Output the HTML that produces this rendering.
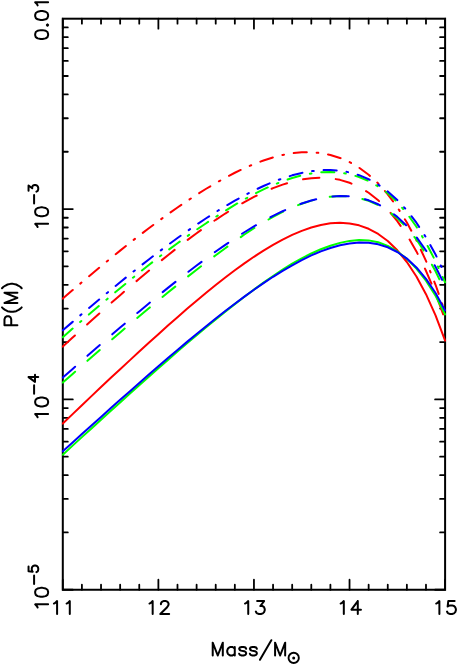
<!DOCTYPE html>
<html><head><meta charset="utf-8"><title>P(M)</title>
<style>
html,body{margin:0;padding:0;background:#fff;}
body{width:458px;height:665px;overflow:hidden;font-family:"Liberation Sans",sans-serif;}
svg{display:block}
</style></head><body>
<svg width="458" height="665" viewBox="0 0 458 665">
<rect width="458" height="665" fill="#fff"/>
<rect x="62.8" y="18.7" width="382.30" height="571.05" stroke="#000" stroke-width="2.0" fill="none"/>
<path d="M62.80,589.75v-10M62.80,18.7v10M81.91,589.75v-5M81.91,18.7v5M101.03,589.75v-5M101.03,18.7v5M120.15,589.75v-5M120.15,18.7v5M139.26,589.75v-5M139.26,18.7v5M158.38,589.75v-10M158.38,18.7v10M177.49,589.75v-5M177.49,18.7v5M196.61,589.75v-5M196.61,18.7v5M215.72,589.75v-5M215.72,18.7v5M234.84,589.75v-5M234.84,18.7v5M253.95,589.75v-10M253.95,18.7v10M273.06,589.75v-5M273.06,18.7v5M292.18,589.75v-5M292.18,18.7v5M311.30,589.75v-5M311.30,18.7v5M330.41,589.75v-5M330.41,18.7v5M349.53,589.75v-10M349.53,18.7v10M368.64,589.75v-5M368.64,18.7v5M387.76,589.75v-5M387.76,18.7v5M406.87,589.75v-5M406.87,18.7v5M425.99,589.75v-5M425.99,18.7v5M445.10,589.75v-10M445.10,18.7v10M62.8,589.75h10M445.1,589.75h-10M62.8,532.45h5M445.1,532.45h-5M62.8,498.93h5M445.1,498.93h-5M62.8,475.15h5M445.1,475.15h-5M62.8,456.70h5M445.1,456.70h-5M62.8,441.63h5M445.1,441.63h-5M62.8,428.89h5M445.1,428.89h-5M62.8,417.85h5M445.1,417.85h-5M62.8,408.11h5M445.1,408.11h-5M62.8,399.40h10M445.1,399.40h-10M62.8,342.10h5M445.1,342.10h-5M62.8,308.58h5M445.1,308.58h-5M62.8,284.80h5M445.1,284.80h-5M62.8,266.35h5M445.1,266.35h-5M62.8,251.28h5M445.1,251.28h-5M62.8,238.54h5M445.1,238.54h-5M62.8,227.50h5M445.1,227.50h-5M62.8,217.76h5M445.1,217.76h-5M62.8,209.05h10M445.1,209.05h-10M62.8,151.75h5M445.1,151.75h-5M62.8,118.23h5M445.1,118.23h-5M62.8,94.45h5M445.1,94.45h-5M62.8,76.00h5M445.1,76.00h-5M62.8,60.93h5M445.1,60.93h-5M62.8,48.19h5M445.1,48.19h-5M62.8,37.15h5M445.1,37.15h-5M62.8,27.41h5M445.1,27.41h-5" stroke="#000" stroke-width="1.8" fill="none" stroke-linecap="round"/>
<defs><clipPath id="c"><rect x="61.699999999999996" y="18.7" width="384.5" height="571.05"/></clipPath></defs>
<g fill="none" stroke-width="2.0" stroke-linecap="round" stroke-linejoin="round" clip-path="url(#c)">
<path d="M62.80,423.57 L72.36,414.38 L81.91,405.22 L91.47,396.12 L101.03,387.06 L110.59,378.09 L120.14,369.19 L129.70,360.36 L139.26,351.58 L148.82,342.84 L158.38,334.15 L167.93,325.58 L177.49,317.14 L187.05,308.84 L196.61,300.71 L206.16,292.76 L215.72,285.02 L225.28,277.53 L234.84,270.29 L244.39,263.37 L253.95,256.79 L263.51,250.59 L273.06,244.84 L282.62,239.58 L292.18,234.89 L301.74,230.83 L311.29,227.49 L320.85,224.96 L330.41,223.36 L339.97,222.79 L349.53,223.41 L359.08,225.35 L368.64,228.80 L378.20,233.95 L387.76,241.03 L397.31,250.28 L406.87,262.00 L416.43,276.50 L425.99,294.15 L435.54,315.36 L445.10,340.60" stroke="#ff0000" />
<path d="M62.80,346.58 L72.36,337.83 L81.91,329.14 L91.47,320.52 L101.03,311.98 L110.59,303.52 L120.14,295.16 L129.70,286.90 L139.26,278.76 L148.82,270.75 L158.38,262.89 L167.93,255.18 L177.49,247.66 L187.05,240.33 L196.61,233.23 L206.16,226.38 L215.72,219.80 L225.28,213.53 L234.84,207.60 L244.39,202.05 L253.95,196.92 L263.51,192.27 L273.06,188.14 L282.62,184.59 L292.18,181.70 L301.74,179.52 L311.29,178.16 L320.85,177.68 L330.41,178.21 L339.97,179.85 L349.53,182.72 L359.08,186.97 L368.64,192.75 L378.20,200.23 L387.76,209.61 L397.31,221.10 L406.87,234.94 L416.43,251.40 L425.99,270.77 L435.54,293.38 L445.10,319.60" stroke="#ff0000" stroke-dasharray="16.43 16.43"/>
<path d="M62.80,298.57 L72.36,290.35 L81.91,282.22 L91.47,274.17 L101.03,266.22 L110.59,258.36 L120.14,250.62 L129.70,243.00 L139.26,235.54 L148.82,228.25 L158.38,221.15 L167.93,214.22 L177.49,207.50 L187.05,201.00 L196.61,194.75 L206.16,188.76 L215.72,183.08 L225.28,177.74 L234.84,172.76 L244.39,168.19 L253.95,164.08 L263.51,160.47 L273.06,157.42 L282.62,154.99 L292.18,153.24 L301.74,152.25 L311.29,152.15 L320.85,153.03 L330.41,154.94 L339.97,157.93 L349.53,162.10 L359.08,167.62 L368.64,174.68 L378.20,183.51 L387.76,194.30 L397.31,207.19 L406.87,222.42 L416.43,240.24 L425.99,260.93 L435.54,284.79 L445.10,312.17" stroke="#ff0000" stroke-dasharray="13.14 9.86 1.64 9.86"/>
<path d="M62.80,454.64 L72.36,445.88 L81.91,437.13 L91.47,428.41 L101.03,419.71 L110.59,411.04 L120.14,402.40 L129.70,393.79 L139.26,385.23 L148.82,376.72 L158.38,368.27 L167.93,359.88 L177.49,351.56 L187.05,343.34 L196.61,335.22 L206.16,327.23 L215.72,319.37 L225.28,311.65 L234.84,304.10 L244.39,296.74 L253.95,289.58 L263.51,282.63 L273.06,275.96 L282.62,269.63 L292.18,263.70 L301.74,258.29 L311.29,253.47 L320.85,249.26 L330.41,245.72 L339.97,242.88 L349.53,240.89 L359.08,239.97 L368.64,240.38 L378.20,242.25 L387.76,245.85 L397.31,251.45 L406.87,258.89 L416.43,268.53 L425.99,280.62 L435.54,295.77 L445.10,314.46" stroke="#00ff00" />
<path d="M62.80,382.60 L72.36,374.13 L81.91,365.70 L91.47,357.31 L101.03,348.97 L110.59,340.68 L120.14,332.46 L129.70,324.31 L139.26,316.22 L148.82,308.22 L158.38,300.31 L167.93,292.50 L177.49,284.79 L187.05,277.18 L196.61,269.70 L206.16,262.39 L215.72,255.24 L225.28,248.21 L234.84,241.25 L244.39,234.54 L253.95,228.24 L263.51,222.36 L273.06,216.92 L282.62,211.95 L292.18,207.51 L301.74,203.74 L311.29,200.65 L320.85,198.27 L330.41,196.70 L339.97,196.02 L349.53,196.40 L359.08,197.97 L368.64,200.79 L378.20,204.97 L387.76,210.73 L397.31,218.25 L406.87,227.76 L416.43,239.55 L425.99,253.96 L435.54,271.23 L445.10,291.17" stroke="#00ff00" stroke-dasharray="16.43 16.43"/>
<path d="M62.80,337.23 L72.36,328.87 L81.91,320.57 L91.47,312.35 L101.03,304.21 L110.59,296.15 L120.14,288.19 L129.70,280.32 L139.26,272.57 L148.82,264.97 L158.38,257.54 L167.93,250.28 L177.49,243.20 L187.05,236.34 L196.61,229.68 L206.16,223.21 L215.72,216.89 L225.28,210.75 L234.84,204.87 L244.39,199.31 L253.95,194.15 L263.51,189.39 L273.06,185.07 L282.62,181.25 L292.18,178.01 L301.74,175.39 L311.29,173.45 L320.85,172.28 L330.41,171.97 L339.97,172.59 L349.53,174.23 L359.08,176.99 L368.64,181.01 L378.20,186.39 L387.76,193.26 L397.31,202.08 L406.87,213.33 L416.43,226.79 L425.99,242.79 L435.54,261.20 L445.10,282.32" stroke="#00ff00" stroke-dasharray="13.14 9.86 1.64 9.86"/>
<path d="M62.80,451.34 L72.36,442.69 L81.91,434.07 L91.47,425.47 L101.03,416.89 L110.59,408.35 L120.14,399.85 L129.70,391.39 L139.26,382.97 L148.82,374.61 L158.38,366.31 L167.93,358.08 L177.49,349.93 L187.05,341.89 L196.61,333.96 L206.16,326.15 L215.72,318.50 L225.28,311.00 L234.84,303.69 L244.39,296.58 L253.95,289.70 L263.51,283.09 L273.06,276.78 L282.62,270.84 L292.18,265.28 L301.74,260.12 L311.29,255.45 L320.85,251.36 L330.41,247.94 L339.97,245.26 L349.53,243.43 L359.08,242.57 L368.64,242.82 L378.20,244.33 L387.76,247.31 L397.31,251.99 L406.87,258.59 L416.43,267.41 L425.99,278.77 L435.54,292.99 L445.10,310.46" stroke="#0000ff" />
<path d="M62.80,377.60 L72.36,369.13 L81.91,360.71 L91.47,352.34 L101.03,344.02 L110.59,335.76 L120.14,327.56 L129.70,319.44 L139.26,311.40 L148.82,303.45 L158.38,295.61 L167.93,287.88 L177.49,280.28 L187.05,272.83 L196.61,265.53 L206.16,258.42 L215.72,251.51 L225.28,244.83 L234.84,238.40 L244.39,232.25 L253.95,226.42 L263.51,220.94 L273.06,215.85 L282.62,211.21 L292.18,207.06 L301.74,203.46 L311.29,200.48 L320.85,198.19 L330.41,196.67 L339.97,196.02 L349.53,196.33 L359.08,197.72 L368.64,200.32 L378.20,204.27 L387.76,209.72 L397.31,216.87 L406.87,225.90 L416.43,237.04 L425.99,250.54 L435.54,266.68 L445.10,285.77" stroke="#0000ff" stroke-dasharray="16.43 16.43"/>
<path d="M62.80,330.33 L72.36,322.12 L81.91,313.98 L91.47,305.91 L101.03,297.92 L110.59,290.01 L120.14,282.19 L129.70,274.47 L139.26,266.88 L148.82,259.44 L158.38,252.15 L167.93,245.00 L177.49,238.02 L187.05,231.22 L196.61,224.61 L206.16,218.22 L215.72,212.07 L225.28,206.19 L234.84,200.61 L244.39,195.35 L253.95,190.46 L263.51,185.97 L273.06,181.92 L282.62,178.36 L292.18,175.34 L301.74,172.93 L311.29,171.18 L320.85,170.17 L330.41,169.97 L339.97,170.68 L349.53,172.38 L359.08,175.18 L368.64,179.21 L378.20,184.59 L387.76,191.46 L397.31,199.99 L406.87,210.35 L416.43,222.73 L425.99,237.36 L435.54,254.47 L445.10,274.32" stroke="#0000ff" stroke-dasharray="13.14 9.86 1.64 9.86"/>
</g>
<path transform="translate(62.8,614.0) rotate(0)" d="M-8.89,-10.47L-7.62,-11.09L-5.71,-12.93L-5.71,0.00M3.81,-10.47L5.08,-11.09L6.99,-12.93L6.99,0.00" fill="none" stroke="#000" stroke-width="2.0" stroke-linecap="round" stroke-linejoin="round"/>
<path transform="translate(158.38,614.0) rotate(0)" d="M-8.89,-10.47L-7.62,-11.09L-5.71,-12.93L-5.71,0.00M2.54,-9.86L2.54,-10.47L3.17,-11.70L3.81,-12.32L5.08,-12.93L7.62,-12.93L8.89,-12.32L9.53,-11.70L10.16,-10.47L10.16,-9.24L9.53,-8.01L8.26,-6.16L1.91,0.00L10.79,0.00" fill="none" stroke="#000" stroke-width="2.0" stroke-linecap="round" stroke-linejoin="round"/>
<path transform="translate(253.95,614.0) rotate(0)" d="M-8.89,-10.47L-7.62,-11.09L-5.71,-12.93L-5.71,0.00M3.17,-12.93L10.16,-12.93L6.35,-8.01L8.26,-8.01L9.53,-7.39L10.16,-6.78L10.79,-4.93L10.79,-3.70L10.16,-1.85L8.89,-0.62L6.99,0.00L5.08,0.00L3.17,-0.62L2.54,-1.23L1.91,-2.46" fill="none" stroke="#000" stroke-width="2.0" stroke-linecap="round" stroke-linejoin="round"/>
<path transform="translate(349.53,614.0) rotate(0)" d="M-8.89,-10.47L-7.62,-11.09L-5.71,-12.93L-5.71,0.00M8.26,-12.93L1.91,-4.31L11.43,-4.31M8.26,-12.93L8.26,0.00" fill="none" stroke="#000" stroke-width="2.0" stroke-linecap="round" stroke-linejoin="round"/>
<path transform="translate(445.1,614.0) rotate(0)" d="M-8.89,-10.47L-7.62,-11.09L-5.71,-12.93L-5.71,0.00M9.53,-12.93L3.17,-12.93L2.54,-7.39L3.17,-8.01L5.08,-8.62L6.99,-8.62L8.89,-8.01L10.16,-6.78L10.79,-4.93L10.79,-3.70L10.16,-1.85L8.89,-0.62L6.99,0.00L5.08,0.00L3.17,-0.62L2.54,-1.23L1.91,-2.46" fill="none" stroke="#000" stroke-width="2.0" stroke-linecap="round" stroke-linejoin="round"/>
<path transform="translate(210.2,655.5) rotate(0)" d="M2.52,-12.83L2.52,0.00M2.52,-12.83L7.56,0.00M12.60,-12.83L7.56,0.00M12.60,-12.83L12.60,0.00M24.57,-8.56L24.57,0.00M24.57,-6.72L23.31,-7.94L22.05,-8.56L20.16,-8.56L18.90,-7.94L17.64,-6.72L17.01,-4.89L17.01,-3.67L17.64,-1.83L18.90,-0.61L20.16,0.00L22.05,0.00L23.31,-0.61L24.57,-1.83M35.91,-6.72L35.28,-7.94L33.39,-8.56L31.50,-8.56L29.61,-7.94L28.98,-6.72L29.61,-5.50L30.87,-4.89L34.02,-4.28L35.28,-3.67L35.91,-2.44L35.91,-1.83L35.28,-0.61L33.39,0.00L31.50,0.00L29.61,-0.61L28.98,-1.83M46.62,-6.72L45.99,-7.94L44.10,-8.56L42.21,-8.56L40.32,-7.94L39.69,-6.72L40.32,-5.50L41.58,-4.89L44.73,-4.28L45.99,-3.67L46.62,-2.44L46.62,-1.83L45.99,-0.61L44.10,0.00L42.21,0.00L40.32,-0.61L39.69,-1.83M61.11,-15.28L49.77,4.28M64.89,-12.83L64.89,0.00M64.89,-12.83L69.93,0.00M74.97,-12.83L69.93,0.00M74.97,-12.83L74.97,0.00" fill="none" stroke="#000" stroke-width="2.0" stroke-linecap="round" stroke-linejoin="round"/>
<circle cx="293.7" cy="657.9" r="5.15" fill="none" stroke="#000" stroke-width="1.9"/><circle cx="293.7" cy="657.9" r="1.5" fill="#000"/>
<path transform="translate(17.4,304.5) rotate(-90)" d="M-20.64,-12.93L-20.64,0.00M-20.64,-12.93L-14.92,-12.93L-13.02,-12.32L-12.38,-11.70L-11.75,-10.47L-11.75,-8.62L-12.38,-7.39L-13.02,-6.78L-14.92,-6.16L-20.64,-6.16M-2.86,-15.40L-4.13,-14.17L-5.40,-12.32L-6.67,-9.86L-7.30,-6.78L-7.30,-4.31L-6.67,-1.23L-5.40,1.23L-4.13,3.08L-2.86,4.31M1.59,-12.93L1.59,0.00M1.59,-12.93L6.67,0.00M11.75,-12.93L6.67,0.00M11.75,-12.93L11.75,0.00M16.19,-15.40L17.46,-14.17L18.73,-12.32L20.00,-9.86L20.64,-6.78L20.64,-4.31L20.00,-1.23L18.73,1.23L17.46,3.08L16.19,4.31" fill="none" stroke="#000" stroke-width="2.0" stroke-linecap="round" stroke-linejoin="round"/>
<path transform="translate(48.1,18.7) rotate(-90)" d="M-16.51,-12.93L-18.41,-12.32L-19.68,-10.47L-20.32,-7.39L-20.32,-5.54L-19.68,-2.46L-18.41,-0.62L-16.51,0.00L-15.24,0.00L-13.34,-0.62L-12.06,-2.46L-11.43,-5.54L-11.43,-7.39L-12.06,-10.47L-13.34,-12.32L-15.24,-12.93L-16.51,-12.93M-6.35,-1.23L-6.99,-0.62L-6.35,0.00L-5.71,-0.62L-6.35,-1.23M2.54,-12.93L0.64,-12.32L-0.64,-10.47L-1.27,-7.39L-1.27,-5.54L-0.64,-2.46L0.64,-0.62L2.54,0.00L3.81,0.00L5.71,-0.62L6.99,-2.46L7.62,-5.54L7.62,-7.39L6.99,-10.47L5.71,-12.32L3.81,-12.93L2.54,-12.93M13.34,-10.47L14.61,-11.09L16.51,-12.93L16.51,0.00" fill="none" stroke="#000" stroke-width="2.0" stroke-linecap="round" stroke-linejoin="round"/>
<path transform="translate(48.1,207.2) rotate(-90)" d="M-19.84,-10.47L-18.57,-11.09L-16.67,-12.93L-16.67,0.00M-5.24,-12.93L-7.14,-12.32L-8.41,-10.47L-9.05,-7.39L-9.05,-5.54L-8.41,-2.46L-7.14,-0.62L-5.24,0.00L-3.97,0.00L-2.06,-0.62L-0.79,-2.46L-0.16,-5.54L-0.16,-7.39L-0.79,-10.47L-2.06,-12.32L-3.97,-12.93L-5.24,-12.93M3.65,-14.01L12.22,-14.01M16.51,-19.56L21.75,-19.56L18.89,-15.86L20.32,-15.86L21.27,-15.40L21.75,-14.94L22.23,-13.55L22.23,-12.63L21.75,-11.24L20.80,-10.32L19.37,-9.86L17.94,-9.86L16.51,-10.32L16.03,-10.78L15.56,-11.70" fill="none" stroke="#000" stroke-width="2.0" stroke-linecap="round" stroke-linejoin="round"/>
<path transform="translate(48.1,397.4) rotate(-90)" d="M-19.84,-10.47L-18.57,-11.09L-16.67,-12.93L-16.67,0.00M-5.24,-12.93L-7.14,-12.32L-8.41,-10.47L-9.05,-7.39L-9.05,-5.54L-8.41,-2.46L-7.14,-0.62L-5.24,0.00L-3.97,0.00L-2.06,-0.62L-0.79,-2.46L-0.16,-5.54L-0.16,-7.39L-0.79,-10.47L-2.06,-12.32L-3.97,-12.93L-5.24,-12.93M3.65,-14.01L12.22,-14.01M20.32,-19.56L15.56,-13.09L22.70,-13.09M20.32,-19.56L20.32,-9.86" fill="none" stroke="#000" stroke-width="2.0" stroke-linecap="round" stroke-linejoin="round"/>
<path transform="translate(48.1,587.7) rotate(-90)" d="M-19.84,-10.47L-18.57,-11.09L-16.67,-12.93L-16.67,0.00M-5.24,-12.93L-7.14,-12.32L-8.41,-10.47L-9.05,-7.39L-9.05,-5.54L-8.41,-2.46L-7.14,-0.62L-5.24,0.00L-3.97,0.00L-2.06,-0.62L-0.79,-2.46L-0.16,-5.54L-0.16,-7.39L-0.79,-10.47L-2.06,-12.32L-3.97,-12.93L-5.24,-12.93M3.65,-14.01L12.22,-14.01M21.27,-19.56L16.51,-19.56L16.03,-15.40L16.51,-15.86L17.94,-16.32L19.37,-16.32L20.80,-15.86L21.75,-14.94L22.23,-13.55L22.23,-12.63L21.75,-11.24L20.80,-10.32L19.37,-9.86L17.94,-9.86L16.51,-10.32L16.03,-10.78L15.56,-11.70" fill="none" stroke="#000" stroke-width="2.0" stroke-linecap="round" stroke-linejoin="round"/>
</svg></body></html>
